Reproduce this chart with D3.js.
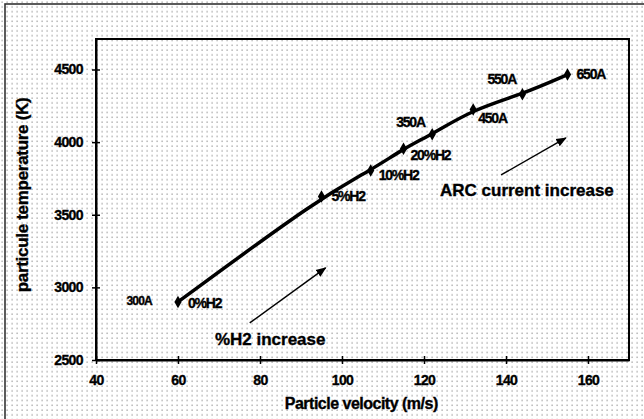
<!DOCTYPE html>
<html>
<head>
<meta charset="utf-8">
<script src="https://cdn.jsdelivr.net/npm/d3@7"></script>
<style>
  body { margin: 0; background: #fff; }
  text { font-family: "Liberation Sans", Arial, sans-serif; font-weight: bold; fill: #000; stroke: #000; stroke-width: 0.35px; }
</style>
</head>
<body>
<div id="chart"></div>
<script>
// ---------- data ----------
var velocity    = [60, 95, 107, 115, 122, 132, 144, 155];
var temperature = [2900, 3625, 3805, 3955, 4055, 4225, 4330, 4465];
var pointLabels = ["0%H2", "5%H2", "10%H2", "20%H2", "350A", "450A", "550A", "650A"];
var xTicks = [40, 60, 80, 100, 120, 140, 160];
var yTicks = [2500, 3000, 3500, 4000, 4500];

// ---------- sizes ----------
var svgWidth = 644, svgHeight = 419;
var margin = { top: 39, right: 15, bottom: 59, left: 96 };
var width = svgWidth - margin.left - margin.right;
var height = svgHeight - margin.top - margin.bottom;

var svg = d3.select('#chart').append('svg')
    .attr('width', svgWidth)
    .attr('height', svgHeight);

// dotted background
var defs = svg.append('defs');
var pat = defs.append('pattern')
    .attr('id', 'dots')
    .attr('patternUnits', 'userSpaceOnUse')
    .attr('width', 5).attr('height', 4.8);
pat.append('rect').attr('x', 1.5).attr('y', 1.5).attr('width', 1.2).attr('height', 1.2).attr('fill', '#8a8a8a');

defs.append('marker')
    .attr('id', 'arrow')
    .attr('viewBox', '0 0 10 10')
    .attr('refX', 9).attr('refY', 5)
    .attr('markerWidth', 7).attr('markerHeight', 7)
    .attr('orient', 'auto')
  .append('path')
    .attr('d', 'M0,1 L10,5 L0,9 Z')
    .attr('fill', '#000');

svg.append('rect').attr('width', svgWidth).attr('height', svgHeight).attr('fill', '#fff');
svg.append('rect').attr('width', svgWidth).attr('height', svgHeight).attr('fill', 'url(#dots)');

// outer frame
svg.append('rect')
    .attr('x', 5).attr('y', 4)
    .attr('width', svgWidth + 10).attr('height', svgHeight + 10)
    .attr('fill', 'none').attr('stroke', '#333').attr('stroke-width', 1.6);

var g = svg.append('g').attr('transform', `translate(${margin.left},${margin.top})`);

// ---------- scales ----------
var x = d3.scaleLinear().domain([40, 170]).range([0, width]);
var y = d3.scaleLinear().domain([2500, 4710]).range([height, 0]);

// plot frame
g.append('rect')
    .attr('width', width).attr('height', height)
    .attr('fill', 'none').attr('stroke', '#000').attr('stroke-width', 2);

// ---------- axes ----------
var xAxis = g.append('g')
    .attr('transform', `translate(0,${height})`)
    .call(d3.axisBottom(x).tickValues(xTicks).tickFormat(d3.format('d'))
        .tickSizeInner(4).tickSizeOuter(0).tickPadding(11));
xAxis.select('.domain').attr('stroke-width', 2);
xAxis.selectAll('.tick line').attr('y1', -4).attr('stroke-width', 1.5);
xAxis.selectAll('text').style('font-size', '14px').style('letter-spacing', '-0.6px');

var yAxis = g.append('g')
    .call(d3.axisLeft(y).tickValues(yTicks).tickFormat(d3.format('d'))
        .tickSizeInner(4).tickSizeOuter(0).tickPadding(9));
yAxis.select('.domain').attr('stroke-width', 2);
yAxis.selectAll('.tick line').attr('x1', 4).attr('stroke-width', 1.5);
yAxis.selectAll('text').style('font-size', '14px').style('letter-spacing', '-0.6px');

// axis titles
g.append('text')
    .attr('x', x(104.7)).attr('y', height + 49)
    .attr('text-anchor', 'middle')
    .style('font-size', '16px')
    .style('letter-spacing', '-0.5px')
    .text('Particle velocity (m/s)');

g.append('text')
    .attr('transform', `translate(${22 - margin.left + 6},${y(3636)}) rotate(-90)`)
    .attr('text-anchor', 'middle')
    .style('font-size', '17px')
    .style('letter-spacing', '-0.3px')
    .text('particule temperature (K)');

// ---------- curve ----------
var pts = velocity.map((v, i) => [x(v), y(temperature[i])]);

g.append('path')
    .datum(pts)
    .attr('fill', 'none')
    .attr('stroke', '#000')
    .attr('stroke-width', 3.5)
    .attr('stroke-linecap', 'round')
    .attr('d', d3.line().curve(d3.curveBasis));

g.selectAll('.pt')
    .data(pts)
    .enter().append('path')
    .attr('class', 'pt')
    .attr('transform', d => `translate(${d[0]},${d[1]})`)
    .attr('d', d3.symbol().type(d3.symbolDiamond).size(45))
    .attr('fill', '#000');

// ---------- point labels ----------
// offsets relative to each point (pixels)
var labelOffsets = [[10, 1], [10, 0], [8, 5], [7, 6], [-36, -12], [5, 8.5], [-35, -15], [9, 0]];
g.selectAll('.lbl')
    .data(pointLabels)
    .enter().append('text')
    .attr('class', 'lbl')
    .attr('x', (d, i) => pts[i][0] + labelOffsets[i][0])
    .attr('y', (d, i) => pts[i][1] + labelOffsets[i][1])
    .attr('dy', '0.35em')
    .style('font-size', '14px')
    .style('letter-spacing', '-1.2px')
    .text(d => d);

g.append('text')
    .attr('x', x(60) - 26).attr('y', y(2900) - 1)
    .attr('dy', '0.35em')
    .attr('text-anchor', 'end')
    .style('font-size', '12px')
    .style('letter-spacing', '-0.8px')
    .text('300A');

// ---------- annotations ----------
g.append('line')
    .attr('x1', x(138.8)).attr('y1', y(3774))
    .attr('x2', x(154.6)).attr('y2', y(4029))
    .attr('stroke', '#000').attr('stroke-width', 1.5)
    .attr('marker-end', 'url(#arrow)');
g.append('text')
    .attr('x', x(123.9)).attr('y', y(3671))
    .attr('dy', '0.35em')
    .style('font-size', '17px')
    .text('ARC current increase');

g.append('line')
    .attr('x1', x(77.5)).attr('y1', y(2755))
    .attr('x2', x(96)).attr('y2', y(3134))
    .attr('stroke', '#000').attr('stroke-width', 1.5)
    .attr('marker-end', 'url(#arrow)');
g.append('text')
    .attr('x', x(69)).attr('y', y(2645))
    .attr('dy', '0.35em')
    .style('font-size', '17px')
    .text('%H2 increase');
</script>
</body>
</html>
